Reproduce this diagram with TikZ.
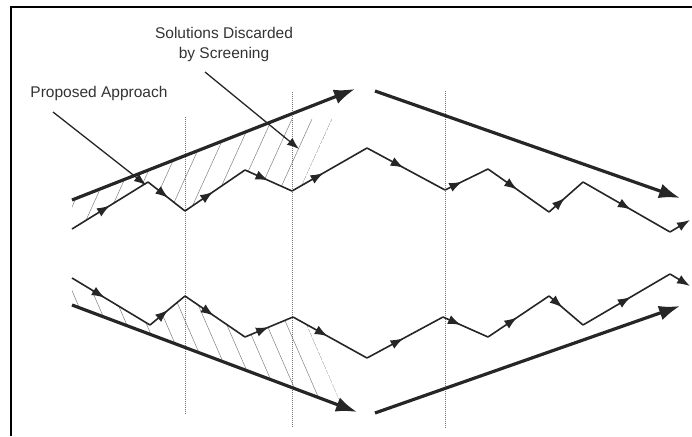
\documentclass[tikz,border=0pt]{standalone}
\usepackage{fontspec}
\setmainfont{Liberation Sans}
\usetikzlibrary{arrows.meta,decorations.markings}

\begin{document}
\begin{tikzpicture}[x=1pt,y=-1pt,
	zig/.style={line width=1.6pt, draw=black!85},
	midarrow/.style={postaction={decorate, decoration={markings, mark=at position #1 with {\arrow{Latex[length=13pt,width=9.5pt]}}}}},
	endarrow/.style={-{Latex[length=13pt,width=9.5pt]}},
	trend/.style={line width=3.2pt, draw=black!85, -{Latex[length=21pt,width=15pt]}},
	pointer/.style={line width=1.3pt, draw=black!85, -{Latex[length=12pt,width=9pt]}},
	screen/.style={line width=0.8pt, draw=black!55, dash pattern=on 1pt off 1pt},
	hatch/.style={line width=0.5pt, draw=black!50},
	txt/.style={font=\fontsize{15.5}{20}\selectfont, text=black!80, align=center, inner sep=0pt}
	]

	\useasboundingbox (0,0) rectangle (692,436);
	\draw[line width=2.5pt] (11,436) -- (11,7) -- (692,7);

	% labels
	\node[txt] (discarded) at (224,44) {Solutions Discarded\\by Screening};
	\node[txt] (proposed) at (99,93) {Proposed Approach};

	% upper path
	\coordinate (u0) at (72,229);
	\coordinate (u1) at (148,182);
	\coordinate (u2) at (185,211);
	\coordinate (u3) at (245,170);
	\coordinate (u4) at (292,191);
	\coordinate (u5) at (367,148);
	\coordinate (u6) at (445,190);
	\coordinate (u7) at (488,169);
	\coordinate (u8) at (549,212);
	\coordinate (u9) at (583,182);
	\coordinate (u10) at (670,232);
	\coordinate (u11) at (690,220);

	% lower path
	\coordinate (l0) at (72,278);
	\coordinate (l1) at (150,325);
	\coordinate (l2) at (185,296);
	\coordinate (l3) at (245,337);
	\coordinate (l4) at (293,317);
	\coordinate (l5) at (367,358);
	\coordinate (l6) at (443,317);
	\coordinate (l7) at (488,337);
	\coordinate (l8) at (549,296);
	\coordinate (l9) at (583,325);
	\coordinate (l10) at (670,274);
	\coordinate (l11) at (690,286);

	% bounds
	\coordinate (ub) at (72,200);
	\coordinate (ut) at (355,89);
	\coordinate (ur) at (375,91);
	\coordinate (urt) at (680,198);
	\coordinate (lb) at (72,305);
	\coordinate (lt) at (357,412);
	\coordinate (lr) at (375,413);
	\coordinate (lrt) at (680,306);

	% screening steps
	\coordinate (s1t) at (185,117);
	\coordinate (s1b) at (185,415);
	\coordinate (s2t) at (292,92);
	\coordinate (s2b) at (292,427);
	\coordinate (s3t) at (445,91);
	\coordinate (s3b) at (445,428);

	% pointers
	\coordinate (p1) at (53,112);
	\coordinate (p1e) at (146,185);
	\coordinate (p2) at (205,72);
	\coordinate (p2e) at (299,149);

	% discarded regions
	\begin{scope}
		\clip (ub) -- (343,95) -- (302,185) -- (u4) -- (u3) -- (u2) -- (u1) -- (u0) -- cycle;
		\foreach \x in {17,37,...,277}
			\draw[hatch] (\x,240) -- ++(55,-121);
	\end{scope}
	\begin{scope}
		\clip (l0) -- (l1) -- (l2) -- (l3) -- (l4) -- (307,325) -- (342,406) -- (lb) -- cycle;
		\foreach \x in {23,43,...,283}
			\draw[hatch] (\x,270) -- ++(60,138);
	\end{scope}

	\draw[screen] (s1t) -- (s1b);
	\draw[screen] (s2t) -- (s2b);
	\draw[screen] (s3t) -- (s3b);

	\draw[trend] (ub) -- (ut);
	\draw[trend] (ur) -- (urt);
	\draw[trend] (lb) -- (lt);
	\draw[trend] (lr) -- (lrt);

	\draw[zig, midarrow=0.5] (u0) -- (u1);
	\draw[zig, midarrow=0.55] (u1) -- (u2);
	\draw[zig, midarrow=0.47] (u2) -- (u3);
	\draw[zig, midarrow=0.5] (u3) -- (u4);
	\draw[zig, midarrow=0.42] (u4) -- (u5);
	\draw[zig, midarrow=0.47] (u5) -- (u6);
	\draw[zig, midarrow=0.4] (u6) -- (u7);
	\draw[zig, midarrow=0.48] (u7) -- (u8);
	\draw[zig, midarrow=0.47] (u8) -- (u9);
	\draw[zig, midarrow=0.55] (u9) -- (u10);
	\draw[zig, endarrow] (u10) -- (u11);

	\draw[zig, midarrow=0.42] (l0) -- (l1);
	\draw[zig, midarrow=0.52] (l1) -- (l2);
	\draw[zig, midarrow=0.48] (l2) -- (l3);
	\draw[zig, midarrow=0.5] (l3) -- (l4);
	\draw[zig, midarrow=0.47] (l4) -- (l5);
	\draw[zig, midarrow=0.48] (l5) -- (l6);
	\draw[zig, midarrow=0.4] (l6) -- (l7);
	\draw[zig, midarrow=0.48] (l7) -- (l8);
	\draw[zig, midarrow=0.4] (l8) -- (l9);
	\draw[zig, midarrow=0.55] (l9) -- (l10);
	\draw[zig, endarrow] (l10) -- (l11);

	\draw[pointer] (p1) -- (p1e);
	\draw[pointer] (p2) -- (p2e);

\end{tikzpicture}
\end{document}
